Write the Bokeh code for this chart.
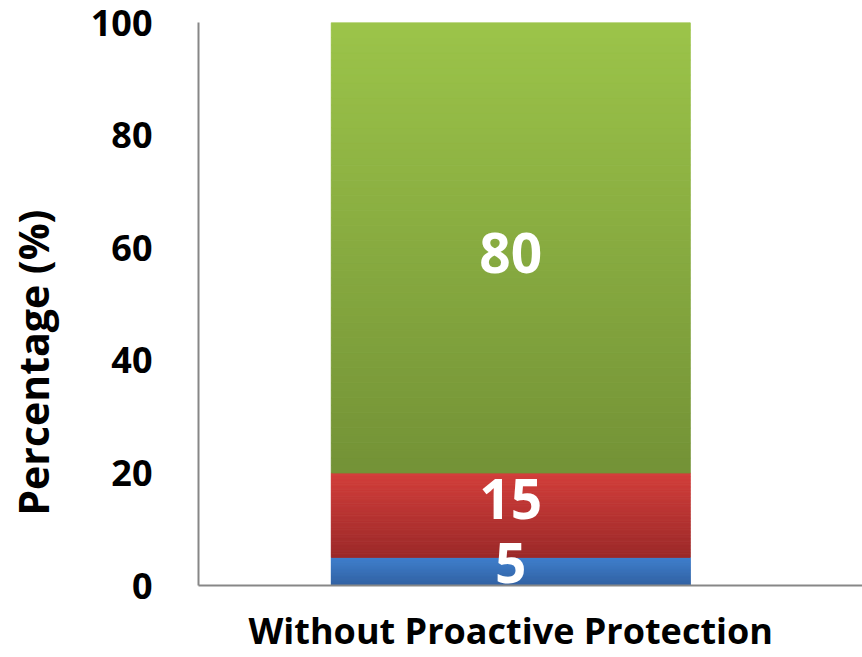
import numpy as np
from bokeh.plotting import figure
from bokeh.models import Range1d, FixedTicker
from bokeh.embed import file_html
from bokeh.resources import INLINE
from bokeh.core.properties import value

categories = ["Without Proactive Protection"]
series_names = ["Blue", "Red", "Green"]
series_values = [5, 15, 80]
y_ticks = [0, 20, 40, 60, 80, 100]
y_title = "Percentage (%)"

# gradient colours (top, bottom) per series
grad_top = [(0x40, 0x80, 0xCC), (0xD2, 0x3F, 0x3B), (0x9C, 0xC4, 0x4A)]
grad_bot = [(0x33, 0x62, 0xA3), (0x9C, 0x2A, 0x2A), (0x74, 0x93, 0x37)]
label_offsets = [-8, -16, 5]

FONT = "Open Sans"

p = figure(width=862, height=657, output_backend="svg", toolbar_location=None,
           x_range=Range1d(-0.87, 0.98), y_range=Range1d(0, 100),
           min_border_left=198, min_border_right=0, min_border_top=22, min_border_bottom=71)
p.grid.visible = False
p.outline_line_color = None
p.background_fill_color = "white"
p.border_fill_color = "white"

xc = 0
half = 0.5
bottoms = np.cumsum([0] + series_values[:-1])
tops = np.cumsum(series_values)

N = 60
for i, (b, t) in enumerate(zip(bottoms, tops)):
    edges = np.linspace(b, t, N + 1)
    fr = np.linspace(0, 1, N)  # fraction toward top
    cols = []
    for f in fr:
        r = int(grad_bot[i][0] + (grad_top[i][0] - grad_bot[i][0]) * f)
        g = int(grad_bot[i][1] + (grad_top[i][1] - grad_bot[i][1]) * f)
        bl = int(grad_bot[i][2] + (grad_top[i][2] - grad_bot[i][2]) * f)
        cols.append("#%02x%02x%02x" % (r, g, bl))
    p.quad(left=xc - half, right=xc + half, bottom=edges[:-1], top=edges[1:],
           fill_color=cols, line_color=cols, line_width=1)

mids = [(b + t) / 2 for b, t in zip(bottoms, tops)]
p.text(x=[xc] * 3, y=mids, text=[str(v) for v in series_values],
       text_font=value(FONT), text_font_style="bold", text_font_size="55px",
       text_color="white", text_align="center", text_baseline="middle",
       y_offset=label_offsets)

# axes
p.yaxis.ticker = FixedTicker(ticks=y_ticks)
p.yaxis.major_tick_line_color = None
p.yaxis.minor_tick_line_color = None
p.yaxis.axis_line_color = "#878787"
p.yaxis.axis_line_width = 2
p.yaxis.major_label_text_font = FONT
p.yaxis.major_label_text_font_style = "bold"
p.yaxis.major_label_text_font_size = "36px"
p.yaxis.major_label_text_color = "black"
p.yaxis.major_label_standoff = 40
# trailing no-break spaces push the visible title down, as in the original
p.yaxis.axis_label = y_title + "\u00a0" * 11
p.yaxis.axis_label_text_font = FONT
p.yaxis.axis_label_text_font_style = "bold"
p.yaxis.axis_label_text_font_size = "41px"
p.yaxis.axis_label_text_color = "black"
p.yaxis.axis_label_standoff = 27

p.xaxis.ticker = FixedTicker(ticks=[xc])
p.xaxis.major_label_overrides = {xc: categories[0]}
p.xaxis.major_tick_line_color = None
p.xaxis.minor_tick_line_color = None
p.xaxis.axis_line_color = "#878787"
p.xaxis.axis_line_width = 2
p.xaxis.major_label_text_font = FONT
p.xaxis.major_label_text_font_style = "bold"
p.xaxis.major_label_text_font_size = "36px"
p.xaxis.major_label_text_color = "black"
p.xaxis.major_label_standoff = 14

open("out.html", "w").write(file_html(p, INLINE))
